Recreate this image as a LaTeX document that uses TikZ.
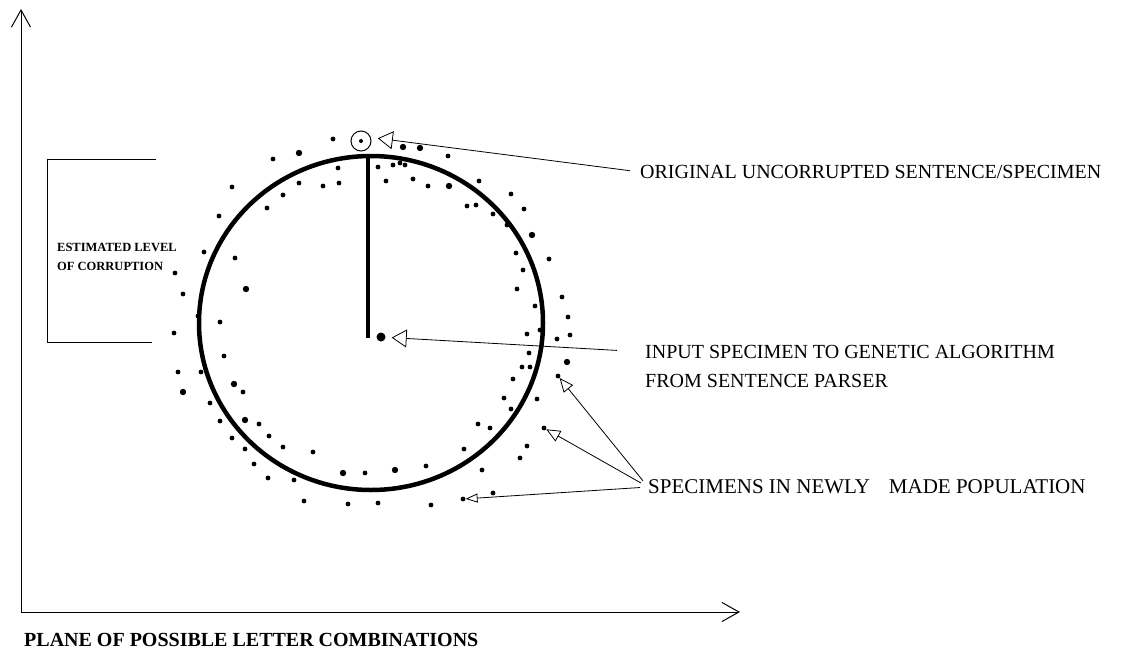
\documentclass[tikz,border=0pt]{standalone}
\usepackage{fontspec}
\setmainfont{Liberation Serif}
\usetikzlibrary{arrows.meta,positioning}

\begin{document}
\begin{tikzpicture}[
  x=1pt, y=-1pt,
  lab/.style={font=\fontsize{20}{24}\selectfont, anchor=west, inner sep=0pt},
  note/.style={font=\fontsize{12.5}{19}\selectfont\bfseries, align=left, anchor=west, inner sep=0pt},
  dot/.style={circle, fill=black, inner sep=0pt, minimum size=4.8pt},
  bigdot/.style={dot, minimum size=6.4pt},
  axis/.style={line width=1pt, -{Straight Barb[length=17pt, width=19pt, line width=1pt]}},
  ptr/.style={line width=0.8pt, -{Triangle[open, length=15pt, width=18pt, line width=0.8pt]}},
  sptr/.style={ptr, -{Triangle[open, length=14pt, width=12pt, line width=0.8pt]}},
  rim/.style={line width=4.5pt},
]
  \useasboundingbox[fill=white] (0,0) rectangle (1146,654);

  % Axes of the plane
  \coordinate (origin) at (21,612);
  \coordinate (ytop) at (21,9);
  \coordinate (xend) at (740,612);
  \draw[axis] (origin) -- (ytop);
  \draw[axis] (origin) -- (xend);
  \node[font=\fontsize{20}{24}\selectfont\bfseries, anchor=west, inner sep=0pt] (lPlane) at (24,640)
    {PLANE OF POSSIBLE LETTER COMBINATIONS};

  % Population circle and its radius
  \draw[rim] (371,323) ellipse [x radius=172pt, y radius=167pt];
  \draw[line width=4pt] (368,156) -- (368,338);
  \node[dot, minimum size=9pt] (inp) at (381,337) {};
  \node[circle, draw, line width=1pt, minimum size=20pt, inner sep=0pt] (orig) at (361,141) {};
  \node[dot, minimum size=4pt] at (orig) {};

  % Scattered specimens
  \foreach \p in {(333,139),(273,159),(338,168),(299,183),(323,186),(339,183),(283,195),
      (232,187),(267,208),(219,216),(204,252),(235,258),(175,273),(183,294),(198,316),
      (378,167),(448,156),(393,165),(400,163),(405,165),(386,181),(413,179),(428,186),
      (479,181),(511,194),(524,209),(467,206),(476,205),(493,214),(507,225),(516,253),
      (549,259),(523,270),(517,289),(562,297),(535,306),(568,317),
      (220,322),(174,333),(224,356),(178,372),(201,372),(243,392),(210,403),(220,421),
      (259,424),(269,436),(232,438),(245,449),(283,447),(313,452),(254,464),(268,478),
      (294,480),(365,473),(304,501),(348,504),(378,503),
      (527,334),(540,330),(557,339),(570,335),(529,353),(522,367),(530,367),(513,379),
      (504,398),(537,399),(511,409),(478,424),(490,428),(527,446),(520,458),(464,449),
      (426,466),(482,470),(493,493),(431,505)}
    \node[dot] at \p {};
  \foreach \p in {(299,153),(246,289),(403,147),(420,148),(449,186),(532,235),
      (183,392),(234,384),(245,420),(343,473),(567,362),(395,470)}
    \node[bigdot] at \p {};
  \node[dot] (s1) at (558,376) {};
  \node[dot] (s2) at (544,428) {};
  \node[dot] (s3) at (463,499) {};

  % Bracket for the corruption level
  \draw[line width=1pt] (156,159) -- (47,159) -- (47,342) -- (152,342);
  \node[note] (lCorr) at (57,257) {ESTIMATED LEVEL\\OF CORRUPTION};

  % Labels and pointers
  \node[lab] (lOrig) at (640,172) {ORIGINAL UNCORRUPTED SENTENCE/SPECIMEN};
  \node[lab] (lInput) at (645,352) {INPUT SPECIMEN TO GENETIC ALGORITHM};
  \node[lab] (lInput2) at (645,381) {FROM SENTENCE PARSER};
  \node[lab, font=\fontsize{21}{24}\selectfont] (lSpec) at (648,487) {SPECIMENS IN NEWLY\hspace{0.9em}MADE POPULATION};
  \draw[ptr, shorten <=10pt, shorten >=7pt] (lOrig.west) -- (orig.20);
  \draw[ptr, shorten <=28pt, shorten >=6pt] (lInput.west) -- (inp);
  \draw[sptr, shorten <=8pt] (lSpec.west) -- (s1);
  \draw[sptr, shorten <=8pt] (lSpec.west) -- (s2);
  \draw[sptr, shorten <=8pt, -{Triangle[open, length=12pt, width=9pt, line width=0.8pt]}] (lSpec.west) -- (s3);
\end{tikzpicture}
\end{document}
